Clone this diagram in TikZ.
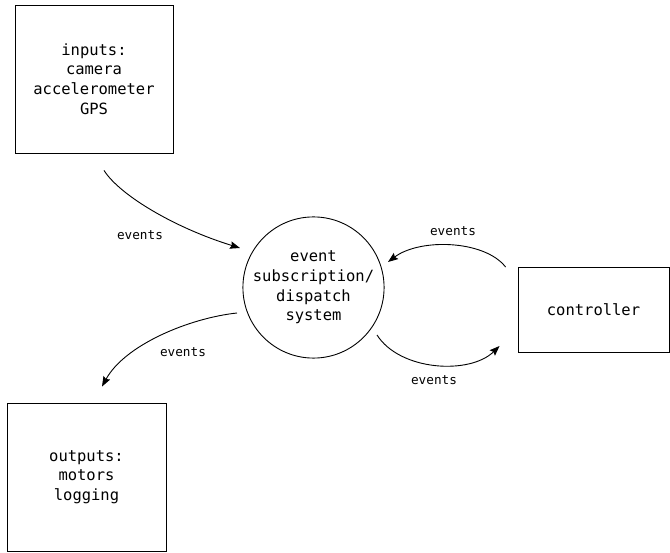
\documentclass[tikz,border=0pt]{standalone}
\usepackage{fontspec}
\setmonofont{DejaVu Sans Mono}
\usetikzlibrary{arrows.meta}
\begin{document}
\begin{tikzpicture}[x=1pt,y=-1pt,
  line width=0.9pt,
  boxtext/.style={font=\ttfamily\fontsize{15.5}{19.7}\selectfont, align=center},
  block/.style={boxtext, draw, inner sep=0pt},
  hub/.style={boxtext, draw, circle, inner sep=0pt, minimum size=137pt},
  flow/.style={-{Stealth[length=10pt,width=7.5pt,inset=1.5pt]}},
  tag/.style={font=\ttfamily\fontsize{12.7}{15}\selectfont}]
\useasboundingbox (0,0) rectangle (670,553);

% components
\node[block, minimum width=158pt, minimum height=148pt] (inputs) at (94,79)
  {inputs:\\camera\\accelerometer\\GPS};
\node[block, minimum width=159pt, minimum height=148pt] (outputs) at (86.5,477)
  {outputs:\\motors\\logging};
\node[block, minimum width=151pt, minimum height=85pt] (controller) at (593.5,309.5)
  {controller};
\node[hub] (dispatch) at (313.5,287.5) {event\\subscription/\\dispatch\\system};

% connector end points, set off from the shapes
\coordinate (inA)  at ([shift={(10,17)}]inputs.south);
\coordinate (hubA) at ([shift={(-73.5,-39.5)}]dispatch.center);
\coordinate (hubB) at ([shift={(-76.5,25.5)}]dispatch.center);
\coordinate (outB) at ([shift={(15.5,-16)}]outputs.north);
\coordinate (ctlC) at ([shift={(-12,-42.5)}]controller.west);
\coordinate (hubC) at ([shift={(74.5,-25.5)}]dispatch.center);
\coordinate (hubD) at ([shift={(63.5,47.5)}]dispatch.center);
\coordinate (ctlD) at ([shift={(-18,36.5)}]controller.west);

% event flows
\draw[flow] (inA) .. controls +(16,25) and +(-65,-20) .. (hubA);
\draw[flow] (hubB) .. controls +(-47,5) and +(23,-42) .. (outB);
\draw[flow] (ctlC) .. controls +(-21,-27) and +(32,-24) .. (hubC);
\draw[flow] (hubD) .. controls +(23,36) and +(-30,29) .. (ctlD);

% labels
\node[tag] at (140,235) {events};
\node[tag] at (183,352) {events};
\node[tag] at (453,231) {events};
\node[tag] at (434,380) {events};
\end{tikzpicture}
\end{document}
